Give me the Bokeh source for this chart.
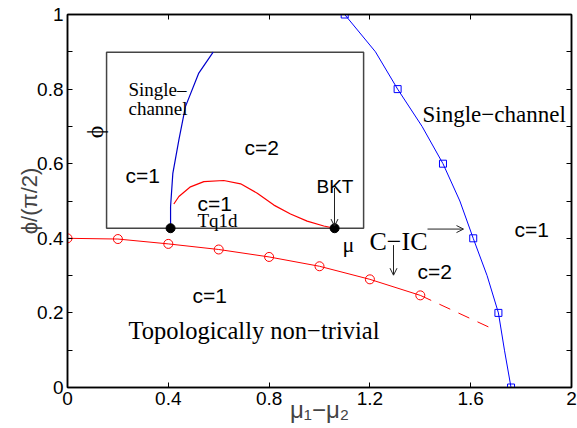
from math import pi
from bokeh.plotting import figure
from bokeh.models import (LinearAxis, FixedTicker, Range1d, Label, Arrow, OpenHead)
from bokeh.embed import file_html
from bokeh.resources import INLINE

# ---- main data ----
red_x = [0.0, 0.2, 0.4, 0.6, 0.8, 1.0, 1.2, 1.4]
red_y = [0.400, 0.398, 0.385, 0.370, 0.350, 0.325, 0.290, 0.247]
red_dash_x = [1.4, 1.675]
red_dash_y = [0.247, 0.161]

blue_x = [1.10, 1.31, 1.49, 1.61, 1.71, 1.76]
blue_y = [1.0, 0.8, 0.6, 0.4, 0.2, 0.0]
blue_curve_x = [1.10, 1.222, 1.31, 1.407, 1.49, 1.557, 1.61, 1.665, 1.71, 1.734, 1.76]
blue_curve_y = [1.0, 0.9, 0.8, 0.7, 0.6, 0.5, 0.4, 0.3, 0.2, 0.1, 0.0]

# ---- inset (drawn in main coordinates) ----
inset_box_x = [0.155, 1.175]
inset_box_y = [0.427, 0.899]
inset_blue_x = [0.409, 0.409, 0.418, 0.442, 0.468, 0.521, 0.578]
inset_blue_y = [0.427, 0.485, 0.574, 0.664, 0.753, 0.843, 0.899]
inset_red_x = [0.422, 0.442, 0.488, 0.541, 0.620, 0.687, 0.753, 0.819, 0.885, 0.951, 1.017, 1.060]
inset_red_y = [0.492, 0.512, 0.538, 0.552, 0.555, 0.546, 0.521, 0.489, 0.465, 0.446, 0.433, 0.427]
inset_dots_x = [0.409, 1.060]
inset_dots_y = [0.427, 0.427]

x_ticks = [0, 0.4, 0.8, 1.2, 1.6, 2.0]
x_tick_labels = ["0", "0.4", "0.8", "1.2", "1.6", "2"]
y_ticks = [0, 0.2, 0.4, 0.6, 0.8, 1.0]
y_tick_labels = ["0", "0.2", "0.4", "0.6", "0.8", "1"]
y_minor = [0.1, 0.3, 0.5, 0.7, 0.9]
x_axis_title = "\u03bc\u2081\u2212\u03bc\u2082"
y_axis_title = "\u03d5/(\u03c0/2)"

SANS = "Liberation Sans"
SERIF = "Liberation Serif"

p = figure(width=577, height=428, output_backend="svg", toolbar_location=None,
           x_range=Range1d(0, 2), y_range=Range1d(0, 1),
           x_axis_location=None, y_axis_location=None,
           min_border_left=67, min_border_right=6, min_border_top=14, min_border_bottom=41)
p.grid.visible = False
p.outline_line_color = "black"
p.outline_line_width = 1.5
p.background_fill_color = "white"
p.border_fill_color = "white"

def style_axis(ax, ticks, minor, labels, show_labels):
    ax.ticker = FixedTicker(ticks=ticks, minor_ticks=minor)
    ax.major_tick_in = 5
    ax.major_tick_out = 0
    ax.minor_tick_in = 5
    ax.minor_tick_out = 0
    ax.axis_line_width = 1.5
    ax.major_tick_line_width = 1
    ax.minor_tick_line_width = 1
    ax.major_label_text_font = SANS
    ax.major_label_text_color = "black"
    ax.major_label_text_font_size = "19px"
    if show_labels:
        ax.major_label_overrides = {t: l for t, l in zip(ticks, labels)}
        ax.major_label_standoff = 4
    else:
        ax.major_label_overrides = {t: "" for t in ticks}
        ax.major_label_standoff = 0

xb = LinearAxis(); style_axis(xb, x_ticks, [], x_tick_labels, True)
xt = LinearAxis(); style_axis(xt, x_ticks, [], x_tick_labels, False)
yl = LinearAxis(); style_axis(yl, y_ticks, y_minor, y_tick_labels, True)
yr = LinearAxis(); style_axis(yr, y_ticks, y_minor, y_tick_labels, False)

xb.axis_label = x_axis_title
xb.axis_label_text_font = SANS
xb.axis_label_text_font_size = "24px"
xb.axis_label_text_font_style = "normal"
xb.axis_label_standoff = -12
yl.axis_label = y_axis_title
yl.axis_label_text_font = SANS
yl.axis_label_text_font_size = "22px"
yl.axis_label_text_font_style = "normal"
yl.axis_label_standoff = -8

p.add_layout(xb, "below")
p.add_layout(xt, "above")
p.add_layout(yl, "left")
p.add_layout(yr, "right")

# main curves
p.line(red_x, red_y, line_color="#ff0000", line_width=1)
p.scatter(red_x, red_y, marker="circle", size=9, fill_color=None, line_color="#ff0000", line_width=1)
p.line(red_dash_x, red_dash_y, line_color="#ff0000", line_width=1, line_dash="12 9")
p.line(blue_curve_x, blue_curve_y, line_color="#0000ff", line_width=1)
p.scatter(blue_x, blue_y, marker="square", size=7, fill_color=None, line_color="#0000ff", line_width=1)

# inset
p.quad(left=[inset_box_x[0]], right=[inset_box_x[1]], bottom=[inset_box_y[0]], top=[inset_box_y[1]],
       fill_color=None, line_color="#444444", line_width=1.5)
p.line(inset_blue_x, inset_blue_y, line_color="#0000cc", line_width=1.2)
p.line(inset_red_x, inset_red_y, line_color="#ff0000", line_width=1.2)
p.scatter(inset_dots_x, inset_dots_y, marker="circle", size=9, fill_color="black", line_color="black")

def px(x):
    return (x - 67) / 252.0

def py(y):
    return (387 - y) / 372.0

def lab(x, y, text, font, size, align="left", baseline="alphabetic", angle=0):
    p.add_layout(Label(x=px(x), y=py(y), text=text, text_font=font, text_font_size=size,
                       text_align=align, text_baseline=baseline, angle=angle, text_color="black"))

# inset texts
lab(128, 90, "Single\u2013", SERIF, "19px")
lab(128, 109, "channel", SERIF, "19px")
lab(244, 148, "c=2", SANS, "21px")
lab(125, 176, "c=1", SANS, "21px")
lab(197, 203, "c=1", SANS, "21px")
lab(197, 220, "Tq1d", SERIF, "19px")
lab(316, 187, "BKT", SANS, "19px")
lab(94, 132, "\u03d5", SERIF, "24px", align="center", baseline="middle", angle=pi / 2)
lab(348, 244, "\u03bc", SERIF, "22px", align="center", baseline="middle")

# main texts
lab(422, 115, "Single\u2212channel", SERIF, "23px")
lab(514, 229, "c=1", SANS, "21px")
lab(369, 241, "C\u2212IC", SERIF, "26px")
lab(417, 271, "c=2", SANS, "21px")
lab(192, 295, "c=1", SANS, "21px")
lab(128, 330, "Topologically non\u2212trivial", SERIF, "24.5px")

# arrows
for (x0, y0, x1, y1) in [(334, 188, 334, 226), (427, 229, 463, 229), (393, 245, 393, 275)]:
    p.add_layout(Arrow(end=OpenHead(size=7, line_width=1, line_color="#222222"),
                       x_start=px(x0), y_start=py(y0), x_end=px(x1), y_end=py(y1),
                       line_width=1, line_color="#222222"))

open("out.html", "w").write(file_html(p, INLINE))
